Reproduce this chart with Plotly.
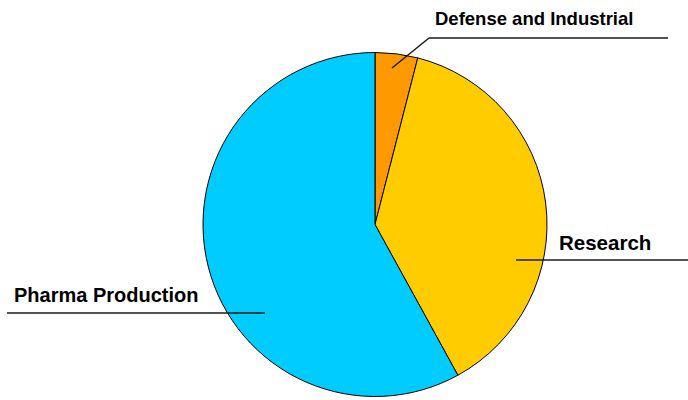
import plotly.graph_objects as go

# Share of usage by sector
labels = ["Defense and Industrial", "Research", "Pharma Production"]
values = [4, 38, 58]
colors = ["#FF9900", "#FFCC00", "#00CCFF"]

W, H = 688, 400


def px(x, y):
    """Convert pixel position to paper coordinates."""
    return x / W, 1 - y / H


# Callout layout: leader line points (pixels), label anchor (pixels), font size
callouts = [
    dict(pts=[(392, 68), (429, 38), (668, 38)], text=(534, 19), anchor="center", size=18.5),
    dict(pts=[(516, 260), (688, 260)], text=(557, 242), anchor="left", size=20.5),
    dict(pts=[(265, 313), (7, 313)], text=(12, 295), anchor="left", size=20),
]

fig = go.Figure(
    go.Pie(
        labels=labels,
        values=values,
        sort=False,
        direction="clockwise",
        rotation=0,
        marker=dict(colors=colors, line=dict(color="#000000", width=1)),
        textinfo="none",
        hoverinfo="label+percent",
        domain=dict(x=[203 / W, 547 / W], y=[1 - 397 / H, 1 - 52 / H]),
        showlegend=False,
    )
)

shapes = []
annotations = []
for lab, c in zip(labels, callouts):
    pts = c["pts"]
    for (x0, y0), (x1, y1) in zip(pts[:-1], pts[1:]):
        a0, b0 = px(x0, y0)
        a1, b1 = px(x1, y1)
        shapes.append(dict(type="line", xref="paper", yref="paper",
                           x0=a0, y0=b0, x1=a1, y1=b1,
                           line=dict(color="#1a1a1a", width=1.5)))
    tx, ty = px(*c["text"])
    annotations.append(dict(text=lab, xref="paper", yref="paper", x=tx, y=ty,
                            xanchor=c["anchor"], yanchor="middle", showarrow=False,
                            font=dict(family="Liberation Sans", size=c["size"],
                                      color="#000000", weight="bold")))

fig.update_layout(
    width=W, height=H,
    margin=dict(l=0, r=0, t=0, b=0),
    paper_bgcolor="#FFFFFF",
    plot_bgcolor="#FFFFFF",
    shapes=shapes,
    annotations=annotations,
)

fig.write_html("out.html")
